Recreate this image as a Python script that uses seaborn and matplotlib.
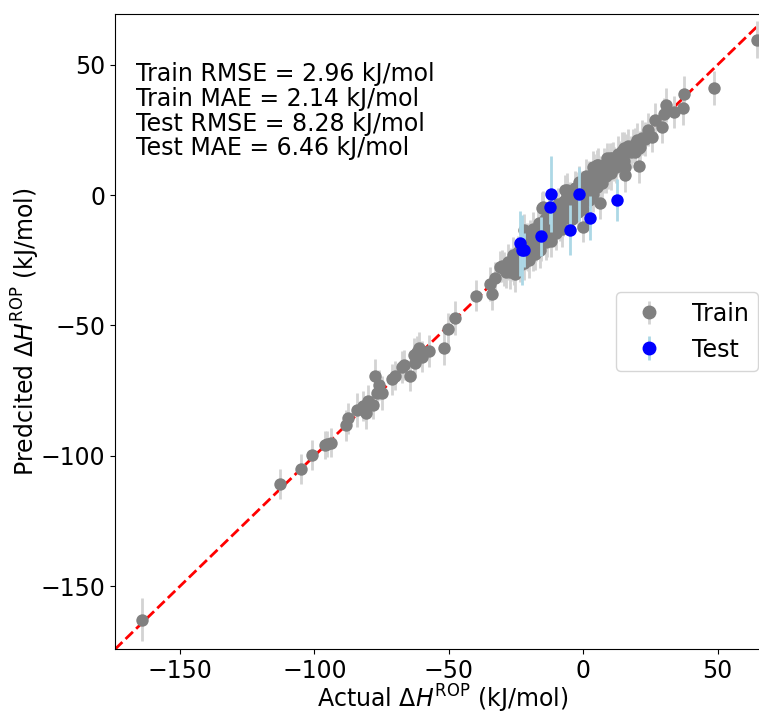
import numpy as np
import pandas as pd
import seaborn as sns
import matplotlib
matplotlib.use("Agg")
import matplotlib.pyplot as plt
from matplotlib.lines import Line2D

# Данные: обучающая выборка (actual, predicted, std)
train_actual = [
    -164.3, -112.9, -105.0, -100.9, -95.9, -95.5, -94.0, -88.3, -87.5, -84.1,
    -81.8, -80.7, -79.9, -78.1, -77.6, -76.7, -76.0, -74.8, -71.1, -69.9,
    -67.4, -66.8, -64.3, -63.1, -62.5, -61.8, -61.2, -60.0, -57.5, -51.9,
    -50.3, -47.6, -40.0, -34.8, -33.8, -32.7, -30.9,
    64.5, 48.8, 37.5, 37.1, 33.6, 30.9, 29.9, 29.3, 26.8, 25.5,
    21.2, 20.9, 20.6, 19.3, 15.6, 15.6, 15.0, 10.7, 10.0, 8.8,
    6.3, 5.1, 3.8, -0.1, -1.7, -6.1, -6.7, -15.4, -14.8, -22.2,
    -23.4, -25.9, -30.2,
    -29.5, -28.8, -28.0, -27.4, -26.9, -26.2, -25.6, -25.0, -24.6, -24.1,
    -23.7, -23.2, -22.8, -22.4, -21.9, -21.5, -21.0, -20.6, -20.2, -19.8,
    -19.4, -19.0, -18.6, -18.2, -17.8, -17.4, -17.0, -16.6, -16.2, -15.8,
    -15.4, -15.0, -14.6, -14.2, -13.8, -13.4, -13.0, -12.6, -12.2, -11.8,
    -11.4, -11.0, -10.6, -10.2, -9.8, -9.4, -9.0, -8.6, -8.2, -7.8,
    -7.4, -7.0, -6.6, -6.2, -5.8, -5.4, -5.0, -4.6, -4.2, -3.8,
    -3.4, -3.0, -2.6, -2.2, -1.8, -1.4, -1.0, -0.6, -0.2, 0.2,
    0.6, 1.0, 1.4, 1.8, 2.2, 2.6, 3.0, 3.4, 3.8, 4.2,
    4.6, 5.0, 5.4, 5.8, 6.2, 6.6, 7.0, 7.4, 7.8, 8.2,
    8.6, 9.0, 9.4, 9.8, 10.4, 11.0, 11.6, 12.2, 12.8, 13.4,
    14.0, 14.6, 15.2, 16.0, 16.8, 17.6, 18.4, 19.2, 20.0, 21.8,
    23.0, 24.2,
    -25.5, -22.0, -20.0, -18.0, -16.0, -14.0, -12.0, -10.0, -8.0, -4.0,
    -2.0, 0.0, 2.0, -12.8, -9.2, -6.0, -3.2, 1.2, 4.0, 5.6,
    -18.8, -16.4,
]
train_pred = [
    -162.8, -110.9, -105.1, -99.7, -95.8, -95.5, -94.9, -88.3, -85.6, -82.4,
    -81.0, -83.5, -79.0, -80.5, -69.5, -76.0, -72.8, -76.0, -70.6, -69.3,
    -65.8, -65.1, -69.3, -61.3, -64.5, -60.0, -58.7, -62.0, -59.8, -58.7,
    -51.4, -47.2, -38.6, -34.0, -38.0, -31.9, -27.5,
    59.7, 41.1, 38.7, 33.6, 31.9, 34.5, 31.3, 26.2, 28.7, 22.4,
    18.5, 17.9, 11.3, 19.8, 10.8, 7.7, 17.9, 14.1, 14.1, 14.1,
    -3.2, 11.5, 10.8, -12.1, 5.1, 1.9, 1.9, -5.1, -4.5, -13.4,
    -24.9, -28.1, -27.2,
    -28.3, -29.6, -25.5, -29.3, -26.5, -23.1, -28.0, -24.0, -24.9, -21.9,
    -26.7, -22.4, -18.8, -23.9, -20.2, -22.1, -18.1, -22.8, -20.0, -16.3,
    -20.4, -17.6, -22.0, -16.2, -17.3, -19.2, -12.6, -16.8, -14.3, -18.5,
    -14.5, -12.0, -15.8, -9.2, -13.5, -17.0, -10.6, -13.3, -10.9, -7.6,
    -13.4, -10.4, -7.8, -11.6, -6.2, -9.8, -7.4, -11.5, -8.1, -5.5,
    -8.5, -2.4, -5.8, -8.6, -4.0, -5.9, -1.7, -8.4, -3.8, -1.7,
    -5.0, -2.0, 2.6, -3.1, 0.8, -3.7, -0.3, 3.2, -1.5, 1.7,
    0.2, 3.9, -1.4, 2.7, 6.3, 1.6, 4.8, 3.4, 0.6, 6.6,
    5.2, 3.3, 8.8, 6.9, 5.4, 8.6, 4.5, 7.7, 11.7, 9.6,
    7.4, 11.7, 9.3, 10.7, 8.4, 13.2, 12.1, 10.7, 15.8, 14.4,
    13.4, 17.1, 13.0, 16.8, 18.7, 16.6, 18.8, 16.6, 21.2, 22.0,
    21.6, 25.1,
    -30.3, -26.2, -25.0, -22.5, -21.2, -18.0, -17.5, -14.4, -13.1, -9.0,
    -6.3, -5.4, -1.9, -6.6, -3.4, -0.4, 2.8, 7.5, 9.0, 11.5,
    -13.0, -10.5,
]
train_std = [
    8.4, 5.8, 5.8, 5.6, 5.5, 5.0, 5.5, 6.0, 6.0, 6.5,
    5.8, 6.2, 6.0, 5.5, 6.5, 6.0, 5.8, 6.5, 6.0, 5.6,
    6.2, 5.8, 6.0, 6.4, 5.7, 6.0, 6.3, 5.9, 6.2, 6.5,
    6.3, 6.6, 6.0, 6.5, 6.0, 6.2, 6.0,
    7.0, 6.5, 7.0, 6.8, 6.0, 6.5, 6.0, 6.2, 6.5, 6.0,
    6.3, 6.0, 6.6, 6.0, 6.0, 6.4, 6.2, 6.0, 5.8, 6.0,
    6.0, 6.0, 6.2, 6.0, 6.0, 6.5, 6.0, 6.2, 6.0, 6.0,
    6.5, 6.0, 6.3,
    6.5, 6.1, 6.9, 6.6, 6.3, 7.1, 6.5, 5.9, 6.7, 6.4,
    6.8, 6.2, 7.0, 6.5, 6.1, 6.7, 7.3, 6.3, 6.5, 6.9,
    6.0, 6.6, 7.1, 6.4, 6.8, 6.2, 6.5, 7.0, 6.1, 6.7,
    6.3, 7.2, 6.5, 5.9, 6.8, 6.6, 6.4, 7.1, 6.2, 6.7,
    6.5, 6.0, 6.9, 6.6, 6.3, 7.0, 6.5, 6.1, 6.8, 6.4,
    7.2, 6.2, 6.7, 6.5, 6.0, 6.9, 6.6, 6.3, 7.1, 6.5,
    6.1, 6.8, 6.4, 6.7, 6.2, 7.0, 6.5, 5.9, 6.6, 6.9,
    6.3, 7.1, 6.5, 6.2, 6.8, 6.4, 6.7, 6.1, 7.0, 6.5,
    6.3, 6.9, 6.6, 6.2, 7.1, 6.5, 6.0, 6.8, 6.4, 6.7,
    6.5, 6.1, 6.9, 6.6, 6.3, 7.0, 6.5, 6.2, 6.8, 6.4,
    6.7, 7.1, 6.3, 6.5, 6.8, 6.2, 6.6, 6.9, 6.4, 6.7,
    6.5, 6.3,
    6.7, 6.4, 6.8, 6.2, 6.6, 7.0, 6.3, 6.5, 6.9, 6.1,
    6.7, 6.4, 6.8, 6.5, 6.2, 7.0, 6.6, 6.3, 6.7, 6.5,
    6.4, 6.8,
]

# Тестовая выборка
test_actual = [-11.9, -1.5, -12.3, 12.6, 2.6, -4.8, -15.6, -23.4, -22.7, -21.9]
test_pred = [0.4, 0.4, -4.6, -1.9, -8.8, -13.4, -15.7, -18.4, -21.1, -21.1]
test_std = [14.5, 10.5, 6.5, 8.0, 8.5, 9.5, 7.5, 12.5, 13.5, 6.5]

metrics = ["Train RMSE = 2.96 kJ/mol", "Train MAE = 2.14 kJ/mol",
           "Test RMSE = 8.28 kJ/mol", "Test MAE = 6.46 kJ/mol"]

train_df = pd.DataFrame({"actual": train_actual, "pred": train_pred, "std": train_std})
test_df = pd.DataFrame({"actual": test_actual, "pred": test_pred, "std": test_std})

fs = 17
fig = plt.figure(figsize=(7.59, 7.17), dpi=100)
# правая граница осей выходит за край картинки, как в оригинале
ax = fig.add_axes([0.1515, 0.0945, 0.863, 0.886])

lims = [-174.2, 69.5]

# Диагональ y = x
sns.lineplot(x=lims, y=lims, ax=ax, color="red", linestyle="--", linewidth=2, zorder=1)

# Обучающая выборка
err_train = ax.errorbar(train_df["actual"], train_df["pred"], yerr=train_df["std"],
                        fmt="none", ecolor="lightgray", elinewidth=2, zorder=2)
sns.scatterplot(data=train_df, x="actual", y="pred", ax=ax, color="gray",
                s=80, linewidth=0, zorder=3)

# Тестовая выборка
err_test = ax.errorbar(test_df["actual"], test_df["pred"], yerr=test_df["std"],
                       fmt="none", ecolor="lightblue", elinewidth=2, zorder=4)
sns.scatterplot(data=test_df, x="actual", y="pred", ax=ax, color="blue",
                s=80, linewidth=0, zorder=5)

ax.set_xlim(lims)
ax.set_ylim(lims)

ax.set_xlabel(r"Actual $\Delta H^{\mathrm{ROP}}$ (kJ/mol)", fontsize=fs, labelpad=0)
ax.set_ylabel(r"Predcited $\Delta H^{\mathrm{ROP}}$ (kJ/mol)", fontsize=fs, labelpad=-1)
ax.tick_params(labelsize=fs)

ax.text(0.032, 0.925, "\n".join(metrics), transform=ax.transAxes,
        fontsize=fs, va="top", ha="left", linespacing=1.05)

h_train = (err_train, Line2D([], [], marker="o", linestyle="none", color="gray", markersize=9))
h_test = (err_test, Line2D([], [], marker="o", linestyle="none", color="blue", markersize=9))
ax.legend([h_train, h_test], ["Train", "Test"], loc="center right", fontsize=fs)

plt.savefig("out.png", dpi=100)
plt.close()
